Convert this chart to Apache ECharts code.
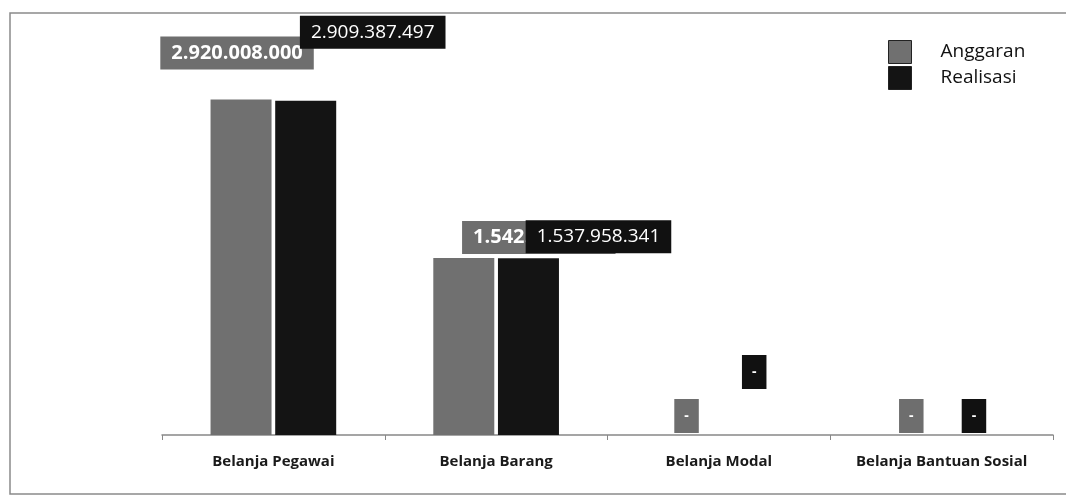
<!DOCTYPE html>
<html>
<head>
<meta charset="utf-8">
<script src="https://cdn.jsdelivr.net/npm/echarts@6/dist/echarts.min.js"></script>
<style>html,body{margin:0;padding:0;background:#fff}#c{width:1066px;height:496px}</style>
</head>
<body>
<div id="c"></div>
<script>
const categories = ['Belanja Pegawai', 'Belanja Barang', 'Belanja Modal', 'Belanja Bantuan Sosial'];
const anggaran = [2920008000, 1542000000, 0, 0];
const realisasi = [2909387497, 1537958341, 0, 0];
const seriesNames = ['Anggaran', 'Realisasi'];

// label placement (manual offsets as in the original, dragged labels)
const offA = [[-4, -30], [75, -4], [0, -2], [2, -2]];
const offR = [[67, -52], [70, -5], [3, -46], [0, -2]];

function fmt(v) {
  if (v === 0) return '-';
  return String(v).replace(/\B(?=(\d{3})+(?!\d))/g, '.');
}

function build(values, offs, bg, bold) {
  return values.map((v, i) => ({
    value: v,
    label: v === 0 ? {
      offset: offs[i], fontSize: 14, fontWeight: 'bold', lineHeight: 14,
      padding: [10, 10], backgroundColor: bg
    } : {
      offset: offs[i], fontSize: bold ? 20 : 19, fontWeight: bold ? 'bold' : 'normal', lineHeight: 21,
      padding: [6, 11], backgroundColor: bg
    }
  }));
}

const chart = echarts.init(document.getElementById('c'));
chart.setOption({
  animation: false,
  backgroundColor: '#fff',
  textStyle: { fontFamily: 'Open Sans' },
  graphic: [{
    type: 'rect', shape: { x: 10, y: 13, width: 1070, height: 481 },
    style: { fill: 'none', stroke: '#8a8a8a', lineWidth: 1.5 }, z: -1
  }],
  legend: {
    data: seriesNames, orient: 'vertical', left: 883, top: 35,
    itemWidth: 23, itemHeight: 23, itemGap: 2, icon: 'rect',
    itemStyle: { borderColor: '#222', borderWidth: 1 },
    textStyle: { fontSize: 19, color: '#111', padding: [0, 0, 0, 24], fontFamily: 'Open Sans' }
  },
  grid: { left: 162, right: 13, top: 33, bottom: 61 },
  xAxis: {
    type: 'category', data: categories,
    axisLine: { lineStyle: { color: '#888', width: 1.5 } },
    axisTick: { show: true, length: 5, lineStyle: { color: '#888' } },
    axisLabel: { interval: 0, fontSize: 15, fontWeight: 'bold', color: '#1a1a1a', margin: 19, fontFamily: 'Open Sans' }
  },
  yAxis: { type: 'value', min: 0, max: 3500000000, show: false, splitLine: { show: false } },
  series: [
    {
      name: seriesNames[0], type: 'bar', barWidth: 61, barGap: '6%',
      itemStyle: { color: '#707070' },
      label: { show: true, position: 'top', distance: 0, color: '#fff', formatter: p => fmt(p.value) },
      data: build(anggaran, offA, '#6e6e6e', true), z: 2
    },
    {
      name: seriesNames[1], type: 'bar', barWidth: 61,
      itemStyle: { color: '#141414' },
      label: { show: true, position: 'top', distance: 0, color: '#fff', formatter: p => fmt(p.value) },
      data: build(realisasi, offR, '#111', false), z: 3
    }
  ]
});
</script>
</body>
</html>
